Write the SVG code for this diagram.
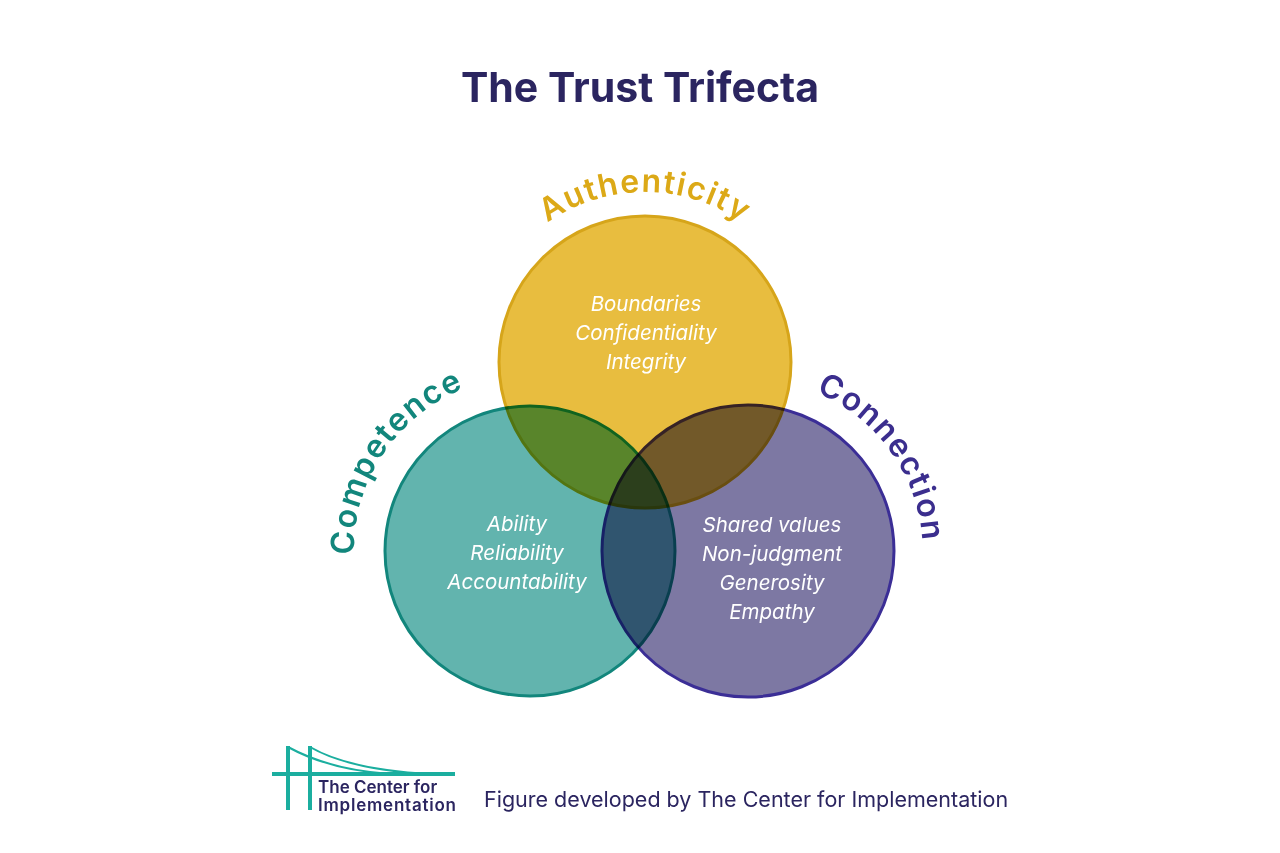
<svg xmlns="http://www.w3.org/2000/svg" width="1280" height="853" viewBox="0 0 1280 853">
<style>
.lbl{font-family:Inter,"Open Sans",sans-serif;font-style:italic;font-size:20.5px;fill:#fff;text-anchor:middle}
.arc{font-family:Inter,"Open Sans",sans-serif;font-weight:600;font-size:32px;letter-spacing:1.5px}
.c{mix-blend-mode:multiply;stroke-width:3}
</style>
<defs>
<path id="pa" d="M 475 362 A 170 170 0 0 1 815 362"/>
<path id="pc" d="M 368 620 A 175 175 0 0 1 530 376"/>
<path id="pn" d="M 748 380 A 171 171 0 0 1 912 610"/>
</defs>
<rect width="1280" height="853" fill="#fff"/>
<text x="640" y="102" text-anchor="middle" font-family="Inter,'Open Sans',sans-serif" font-weight="700" font-size="41" fill="#2B2560">The Trust Trifecta</text>
<g id="authenticity">
<circle class="c" cx="645" cy="362" r="146" fill="#E8BD3F" stroke="#D6A51A"/>
</g>
<g id="competence">
<circle class="c" cx="530" cy="551" r="145" fill="#62B4AE" stroke="#12867C"/>
</g>
<g id="connection">
<circle class="c" cx="748" cy="551" r="146" fill="#7D78A3" stroke="#3B2E96"/>
</g>
<g id="labels">
<text class="arc" fill="#DCA917" text-anchor="middle"><textPath href="#pa" startOffset="50%">Authenticity</textPath></text>
<text class="arc" fill="#12867C" text-anchor="middle"><textPath href="#pc" startOffset="50%">Competence</textPath></text>
<text class="arc" fill="#3B2E8E" text-anchor="middle"><textPath href="#pn" startOffset="50%">Connection</textPath></text>
<text class="lbl" x="646" y="311">Boundaries</text>
<text class="lbl" x="646" y="340">Confidentiality</text>
<text class="lbl" x="646" y="369">Integrity</text>
<text class="lbl" x="517" y="531">Ability</text>
<text class="lbl" x="517" y="560">Reliability</text>
<text class="lbl" x="517" y="589">Accountability</text>
<text class="lbl" x="772" y="532">Shared values</text>
<text class="lbl" x="772" y="561">Non-judgment</text>
<text class="lbl" x="772" y="590">Generosity</text>
<text class="lbl" x="772" y="619">Empathy</text>
</g>
<g id="logo" fill="none" stroke="#1BAE9F" stroke-width="4">
<line x1="288" y1="746" x2="288" y2="810"/>
<line x1="310" y1="746" x2="310" y2="810"/>
<line x1="272" y1="774" x2="455" y2="774"/>
<path d="M288 747 Q330 770 390 774" stroke-width="2"/>
<path d="M310 747 Q350 770 430 774" stroke-width="2"/>
<text x="318" y="793" stroke="none" fill="#2B2560" font-family="Inter,sans-serif" font-weight="600" font-size="17">The Center for</text>
<text x="318" y="811" stroke="none" fill="#2B2560" font-family="Inter,sans-serif" font-weight="600" font-size="17" textLength="138">Implementation</text>
</g>
<text x="484" y="807" font-family="Inter,'Open Sans',sans-serif" font-size="21.5" fill="#2B2560">Figure developed by The Center for Implementation</text>
</svg>
